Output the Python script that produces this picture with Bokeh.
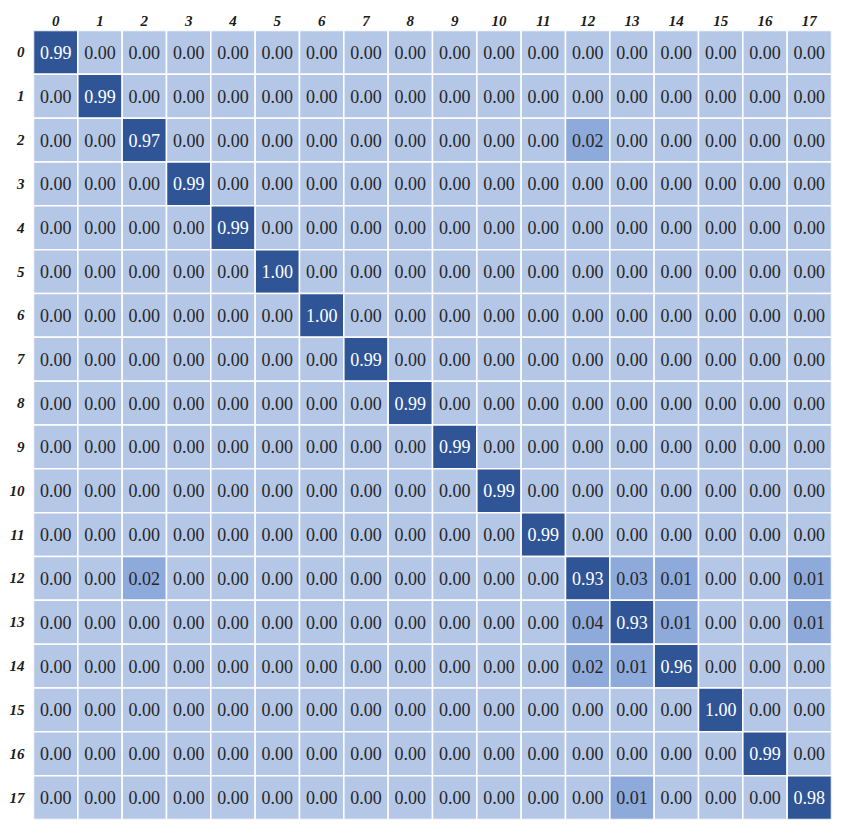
from bokeh.plotting import figure
from bokeh.models import ColumnDataSource, Range1d, FixedTicker, LinearAxis
from bokeh.core.properties import value
from bokeh.embed import file_html
from bokeh.resources import INLINE

labels = [str(i) for i in range(18)]
diag = [0.99, 0.99, 0.97, 0.99, 0.99, 1.00, 1.00, 0.99, 0.99, 0.99,
        0.99, 0.99, 0.93, 0.93, 0.96, 1.00, 0.99, 0.98]
off_rows = [2, 12, 12, 12, 12, 13, 13, 13, 14, 14, 17]
off_cols = [12, 2, 13, 14, 17, 12, 14, 17, 12, 13, 13]
off_vals = [0.02, 0.02, 0.03, 0.01, 0.01, 0.04, 0.01, 0.01, 0.02, 0.01, 0.01]

n = len(labels)
mat = [[0.0] * n for _ in range(n)]
for i, v in enumerate(diag):
    mat[i][i] = v
for r, c, v in zip(off_rows, off_cols, off_vals):
    mat[r][c] = v

LIGHT = "#b4c7e7"
MID = "#8eaadb"
DARK = "#2f5597"

xs, ys, vals, fills, tcols, txt = [], [], [], [], [], []
for r in range(n):
    for c in range(n):
        v = mat[r][c]
        xs.append(c + 0.5)
        ys.append(r + 0.5)
        vals.append(v)
        if v == 0:
            fills.append(LIGHT)
        elif v < 0.5:
            fills.append(MID)
        else:
            fills.append(DARK)
        tcols.append("#ffffff" if v >= 0.5 else "#262626")
        txt.append(f"{v:.2f}")

src = ColumnDataSource(dict(x=xs, y=ys, v=vals, fill=fills, tc=tcols, t=txt))

p = figure(width=840, height=827, output_backend="svg", toolbar_location=None,
           x_range=Range1d(0, n), y_range=Range1d(n, 0),
           x_axis_location=None, y_axis_location=None,
           min_border_left=33, min_border_top=30, min_border_right=9,
           min_border_bottom=8)
p.outline_line_color = None
p.grid.visible = False
p.background_fill_color = "white"

p.rect(x="x", y="y", width=1, height=1, source=src, fill_color="fill",
       line_color="white", line_width=1.5)
p.text(x="x", y="y", text="t", source=src, text_color="tc",
       text_align="center", text_baseline="middle",
       text_font=value("Liberation Serif"), text_font_size="18px")

ticks = [i + 0.5 for i in range(n)]
overrides = {t: lab for t, lab in zip(ticks, labels)}

for loc, so in (("above", 5), ("left", 9)):
    ax = LinearAxis(ticker=FixedTicker(ticks=ticks),
                    major_label_overrides=overrides)
    ax.axis_line_color = None
    ax.major_tick_line_color = None
    ax.minor_tick_line_color = None
    ax.major_tick_in = 0
    ax.major_tick_out = 0
    ax.major_label_text_font = "Liberation Serif"
    ax.major_label_text_font_style = "bold italic"
    ax.major_label_text_font_size = "15px"
    ax.major_label_text_color = "#1a1a1a"
    ax.major_label_standoff = so
    p.add_layout(ax, loc)

open("out.html", "w").write(file_html(p, INLINE))
